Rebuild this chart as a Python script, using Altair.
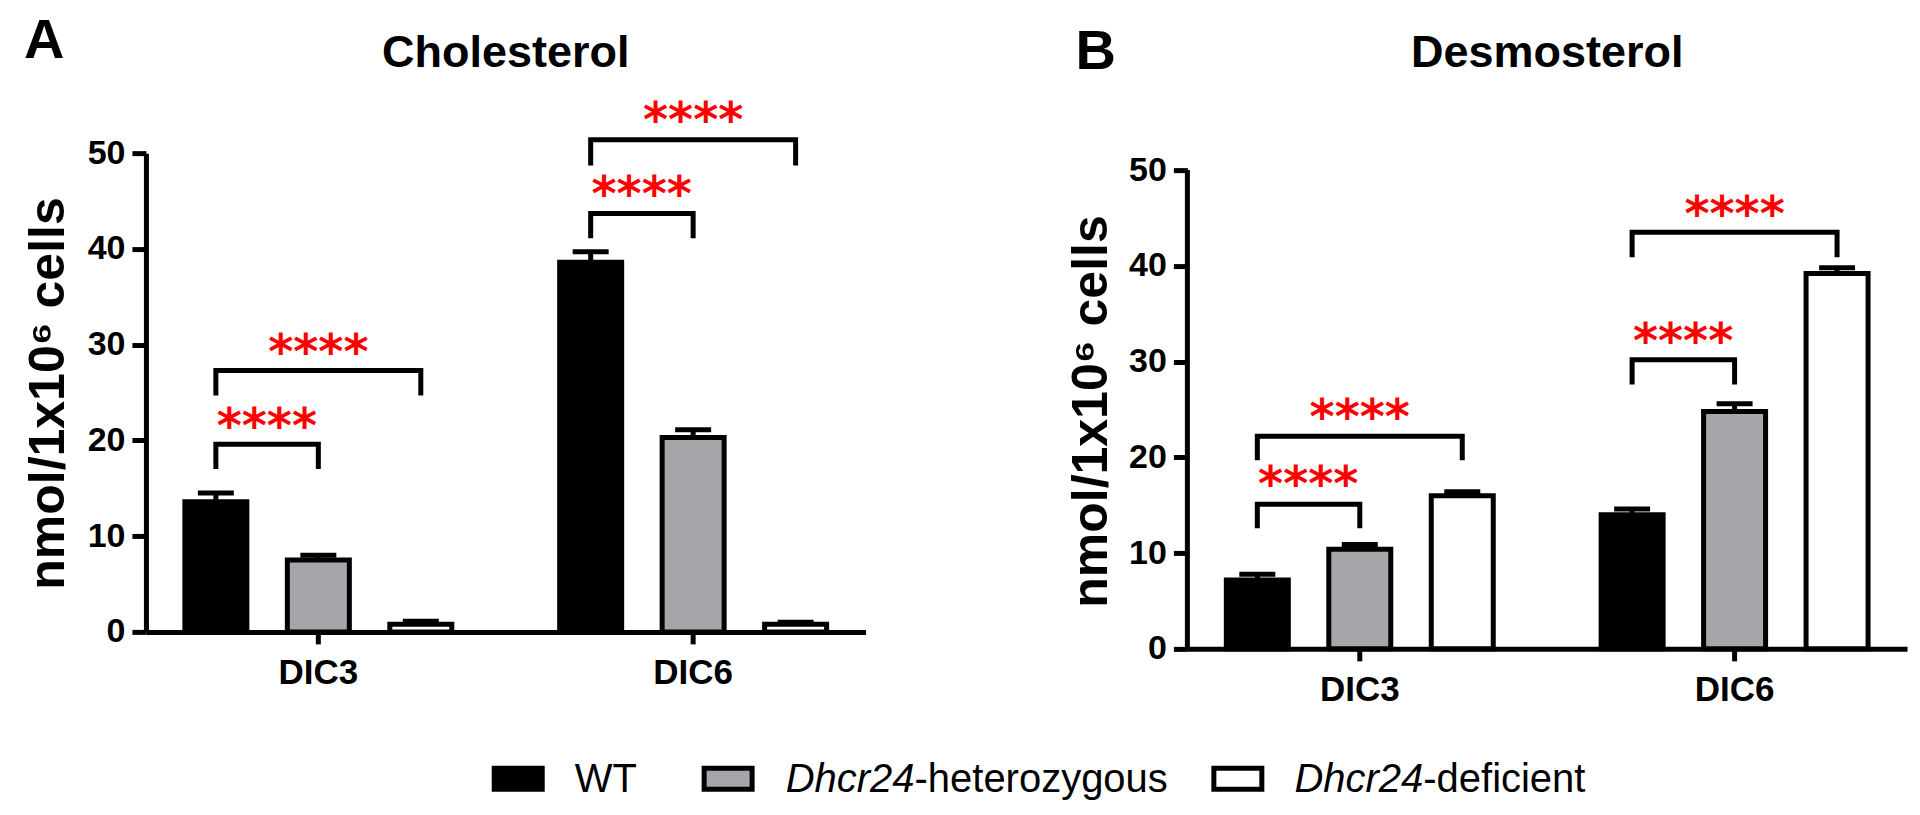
import altair as alt
import pandas as pd

FONT = "Liberation Sans"

groups = ["DIC3", "DIC6"]
series = ["WT", "Het", "Def"]
series_fill = ["#000000", "#a6a6aa", "#ffffff"]
y_ticks = [0, 10, 20, 30, 40, 50]
y_title = "nmol/1x10\u2076 cells"

# Panel A - Cholesterol
chol_WT = [13.6, 38.6]
chol_Het = [7.5, 20.3]
chol_Def = [0.8, 0.8]
chol_WT_sem = [0.9, 1.1]
chol_Het_sem = [0.5, 0.8]
chol_Def_sem = [0.3, 0.2]

br_group = ["DIC3", "DIC3", "DIC6", "DIC6"]
br_target = ["Het", "Def", "Het", "Def"]
br_label = ["****", "****", "****", "****"]

chol_br_top = [19.6, 27.3, 43.7, 51.4]
chol_br_leg = [17.0, 24.7, 41.1, 48.7]
chol_star_y = [22.7, 30.4, 46.9, 54.6]

# Panel B - Desmosterol
des_WT = [7.2, 14.0]
des_Het = [10.4, 24.8]
des_Def = [16.0, 39.2]
des_WT_sem = [0.6, 0.6]
des_Het_sem = [0.5, 0.8]
des_Def_sem = [0.4, 0.6]

des_br_top = [15.1, 22.2, 30.2, 43.5]
des_br_leg = [12.6, 19.7, 27.6, 40.9]
des_star_y = [18.4, 25.4, 33.3, 46.6]

legend_italic = ["", "Dhcr24", "Dhcr24"]
legend_plain = ["WT", "-heterozygous", "-deficient"]


def bar_frame(wt, het, de, wts, hets, des_):
    rows = []
    for gi, g in enumerate(groups):
        for s, v, e in zip(series, [wt[gi], het[gi], de[gi]], [wts[gi], hets[gi], des_[gi]]):
            rows.append({"group": g, "series": s, "value": v, "top": v + e})
    return pd.DataFrame(rows)


def bracket_frame(tops, legs):
    rows = []
    for i, (g, t, top, leg) in enumerate(zip(br_group, br_target, tops, legs)):
        pts = [("WT", leg), ("WT", top), (t, top), (t, leg)]
        for k, (s, y) in enumerate(pts):
            rows.append({"bid": i, "k": k, "group": g, "series": s, "value": y})
    return pd.DataFrame(rows)


def star_frame(ys):
    return pd.DataFrame({
        "group": br_group,
        "target": br_target,
        "anchor": ["WT" if t == "Het" else "Het" for t in br_target],
        "value": ys,
        "stars": br_label,
    })


x_axis = alt.Axis(title=None, labelFont=FONT, labelFontSize=35, labelFontWeight="bold",
                  labelColor="black", labelAngle=0, labelPadding=12, tickSize=12,
                  tickWidth=5, tickColor="black", domainColor="black", domainWidth=5,
                  grid=False)


def y_axis(title_x, title_y, domain):
    return alt.Axis(title=y_title, values=y_ticks, grid=False, domain=domain,
                    domainColor="black", domainWidth=5, tickColor="black", tickWidth=5,
                    tickSize=14, labelFont=FONT, labelFontSize=34, labelFontWeight="bold",
                    labelColor="black", labelPadding=7, titleFont=FONT, titleFontSize=50,
                    titleFontWeight="bold", titleColor="black", titleX=title_x,
                    titleY=title_y, titleAngle=270, titleBaseline="alphabetic",
                    titleAlign="center")


one = pd.DataFrame({"k": [0]})


def text_layer(txt, x, y, size, weight="bold", style="normal", align="left"):
    return alt.Chart(pd.DataFrame({"t": [txt]})).mark_text(
        font=FONT, fontSize=size, fontWeight=weight, fontStyle=style, align=align,
        baseline="alphabetic", color="black").encode(
        text="t:N", x=alt.value(x), y=alt.value(y))


def panel(bars, brackets, stars, ydomain, yaxis, height, title, letter, letter_x,
          letter_y, title_y, extra):
    xs = alt.Scale(domain=groups, paddingInner=0.08, paddingOuter=0)
    xos = alt.Scale(domain=series, paddingInner=0.395, paddingOuter=0.38)
    ys = alt.Scale(domain=ydomain, nice=False, zero=True)

    def X():
        return alt.X("group:N", scale=xs, axis=x_axis, sort=groups)

    def XO(f="series"):
        return alt.XOffset(f + ":N", scale=xos, sort=series)

    def Y(f):
        return alt.Y(f + ":Q", scale=ys, axis=yaxis)

    b = alt.Chart(bars).mark_bar(stroke="black", strokeWidth=5).encode(
        x=X(), xOffset=XO(), y=Y("value"),
        fill=alt.Fill("series:N", scale=alt.Scale(domain=series, range=series_fill), legend=None))
    err = alt.Chart(bars).mark_rule(strokeWidth=5, color="black").encode(
        x=X(), xOffset=XO(), y=Y("value"), y2="top:Q")
    cap = alt.Chart(bars).mark_tick(size=36, thickness=5, color="black", opacity=1,
                                    orient="horizontal").encode(
        x=X(), xOffset=XO(), y=Y("top"))
    br = alt.Chart(brackets).mark_line(strokeWidth=5, color="black", strokeJoin="miter").encode(
        x=X(), xOffset=XO(), y=Y("value"), detail="bid:N", order="k:Q")
    st1 = alt.Chart(stars).transform_filter(alt.datum.target == "Het").mark_text(
        font="DejaVu Sans", fontSize=48, fontWeight="bold", color="#ff0000",
        baseline="alphabetic", dy=27, dx=51).encode(
        x=X(), xOffset=XO("anchor"), y=Y("value"), text="stars:N")
    st2 = alt.Chart(stars).transform_filter(alt.datum.target == "Def").mark_text(
        font="DejaVu Sans", fontSize=48, fontWeight="bold", color="#ff0000",
        baseline="alphabetic", dy=27).encode(
        x=X(), xOffset=XO("anchor"), y=Y("value"), text="stars:N")
    ttl = text_layer(title, 360, title_y, 45, align="center")
    let = text_layer(letter, letter_x, letter_y, 56)
    return alt.layer(b, err, cap, br, st1, st2, ttl, let, *extra).properties(
        width=720, height=height)


# legend (drawn as annotation in panel A's coordinate frame)
legend_layers = []
sym_x = [348.5, 558.5, 1068.5]
for i, s in enumerate(series):
    legend_layers.append(alt.Chart(one).mark_rect(
        fill=series_fill[i], stroke="black", strokeWidth=5).encode(
        x=alt.value(sym_x[i]), x2=alt.value(sym_x[i] + 48),
        y=alt.value(615.5), y2=alt.value(636.5)))
legend_layers.append(text_layer(legend_plain[0], 429, 639, 40, weight="normal"))
for i, jx in [(1, 769), (2, 1278)]:
    legend_layers.append(text_layer(legend_italic[i], jx, 639, 40, weight="normal",
                                    style="italic", align="right"))
    legend_layers.append(text_layer(legend_plain[i], jx, 639, 40, weight="normal"))

anchor = alt.Chart(one).mark_rule(opacity=0, strokeWidth=1).encode(
    x=alt.value(-138), x2=alt.value(-137), y=alt.value(-145), y2=alt.value(-144))

left = panel(
    bar_frame(chol_WT, chol_Het, chol_Def, chol_WT_sem, chol_Het_sem, chol_Def_sem),
    bracket_frame(chol_br_top, chol_br_leg), star_frame(chol_star_y),
    [0, 50], y_axis(-82, 240, True), 479, "Cholesterol", "A", -122, -95, -86,
    legend_layers + [anchor])

axis_df = pd.DataFrame({"lo": [0], "hi": [50]})
right_ydom = [0, 496 / 9.58]
ys_r = alt.Scale(domain=right_ydom, nice=False, zero=True)
right_axis = y_axis(-81, 258, False)
yrule = alt.Chart(axis_df).mark_rule(strokeWidth=5, color="black").encode(
    x=alt.value(0), y=alt.Y("lo:Q", scale=ys_r, axis=right_axis), y2="hi:Q")

right = panel(
    bar_frame(des_WT, des_Het, des_Def, des_WT_sem, des_Het_sem, des_Def_sem),
    bracket_frame(des_br_top, des_br_leg), star_frame(des_star_y),
    right_ydom, right_axis, 496, "Desmosterol", "B", -112, -84, -86, [yrule])

chart = alt.hconcat(left, right, spacing=322, bounds="flush").properties(
    padding={"left": 0, "top": 0, "right": 5, "bottom": 5},
    background="white").configure_view(strokeWidth=0)

chart.save("out.html", embed_options={"renderer": "svg", "actions": False})
